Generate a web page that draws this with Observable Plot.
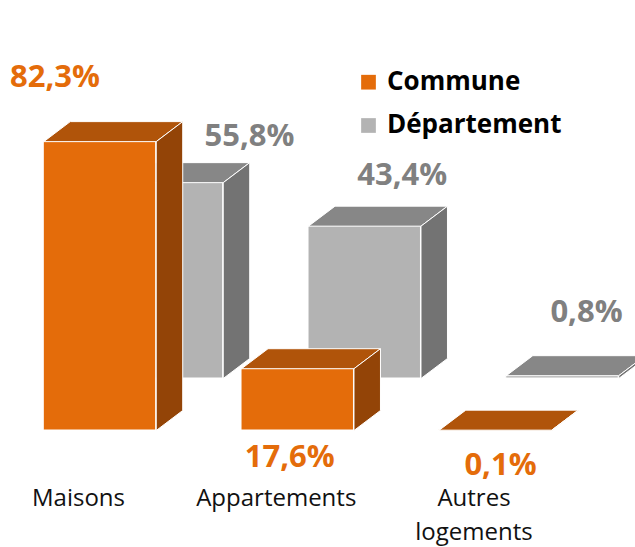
<!DOCTYPE html>
<html>
<head>
<meta charset="utf-8">
<script src="https://cdn.jsdelivr.net/npm/d3@7"></script>
<script src="https://cdn.jsdelivr.net/npm/@observablehq/plot@0.6"></script>
<style>
  html, body { margin: 0; padding: 0; background: #fff; }
  #chart svg { display: block; }
</style>
</head>
<body>
<div id="chart"></div>
<script>
// ---- data ----
const categories = ["Maisons", "Appartements", "Autres\nlogements"];
const seriesNames = ["Commune", "Département"];
const commune = [82.3, 17.6, 0.1];
const departement = [55.8, 43.4, 0.8];

// ---- layout / style constants ----
const W = 0.2843;           // half width of the front face (category units)
const DX = 0.134;           // depth in x (category units)
const DY = 5.7;             // depth in y (percentage units)
const fmt = v => v.toFixed(1).replace(".", ",") + "%";

const palette = {
  Commune: {front: "#E46C0A", top: "#B0540A", side: "#934407", label: "#E46C0A"},
  "Département": {front: "#B3B3B3", top: "#878787", side: "#737373", label: "#808080"}
};
const seriesOffset = {Commune: [0, 0], "Département": [67, -52]};

function boxMarks(name, values) {
  const c = palette[name];
  const [ox, oy] = seriesOffset[name];
  const fronts = values.map((v, i) => ({x1: i - W, x2: i + W, y1: 0, y2: v}));
  const tops = values.flatMap((v, i) => [
    [i - W, v], [i + W, v], [i + W + DX, v + DY], [i - W + DX, v + DY], [i - W, v]
  ].map(([x, y]) => ({id: i, x, y})));
  const sides = values.flatMap((v, i) => [
    [i + W, 0], [i + W + DX, DY], [i + W + DX, v + DY], [i + W, v], [i + W, 0]
  ].map(([x, y]) => ({id: i, x, y})));
  const common = {stroke: "white", strokeWidth: 1, strokeLinejoin: "round", dx: ox, dy: oy};
  return [
    Plot.rect(fronts, {x1: "x1", x2: "x2", y1: "y1", y2: "y2", fill: c.front, ...common}),
    Plot.line(tops, {x: "x", y: "y", z: "id", fill: c.top, ...common}),
    Plot.line(sides, {x: "x", y: "y", z: "id", fill: c.side, ...common})
  ];
}

// label nudges (pixels) relative to (category, value)
const labelNudge = {
  Commune: [[-45, -55], [-8, 98.5], [5, 44.4]],
  "Département": [[149.5, -89], [104.5, -92.7], [91, -105.2]]
};

function valueLabels(name, values) {
  return values.map((v, i) => Plot.text([{i, v}], {
    x: "i", y: "v", text: d => fmt(d.v),
    dx: labelNudge[name][i][0], dy: labelNudge[name][i][1],
    textAnchor: "middle", lineAnchor: "bottom",
    fill: palette[name].label, fontSize: 31, fontWeight: "bold",
    fontFamily: "'Open Sans', sans-serif"
  }));
}

const legendRows = seriesNames.map((name, k) => ({name, k}));

const plot = Plot.plot({
  width: 635,
  height: 547,
  margin: 0,
  x: {type: "linear", domain: [0, 2], range: [99.5, 495], axis: null},
  y: {type: "linear", domain: [0, 100], range: [430, 79], axis: null},
  style: {background: "white", overflow: "hidden"},
  marks: [
    ...boxMarks("Département", departement),
    ...boxMarks("Commune", commune),
    ...valueLabels("Département", departement),
    ...valueLabels("Commune", commune),
    Plot.text(categories, {
      x: (d, i) => i, y: () => 0, text: d => d,
      dx: -21.5, dy: 50.5, lineAnchor: "top", textAnchor: "middle",
      lineHeight: 1.44, fontSize: 24, fill: "#111",
      fontFamily: "'Open Sans', sans-serif"
    }),
    ...legendRows.map(r => Plot.dot([r], {
      frameAnchor: "top-left", dx: 368, dy: 81.7 + r.k * 43.3,
      symbol: "square", r: 8.3, fill: palette[r.name].front, stroke: null
    })),
    ...legendRows.map(r => Plot.text([r], {
      frameAnchor: "top-left", dx: 386.5, dy: 89 + r.k * 43.3,
      text: "name", textAnchor: "start", lineAnchor: "bottom",
      fontSize: 26, fontWeight: "bold", fill: "#000",
      fontFamily: "'Open Sans', sans-serif"
    }))
  ]
});
document.getElementById("chart").append(plot);
</script>
</body>
</html>
